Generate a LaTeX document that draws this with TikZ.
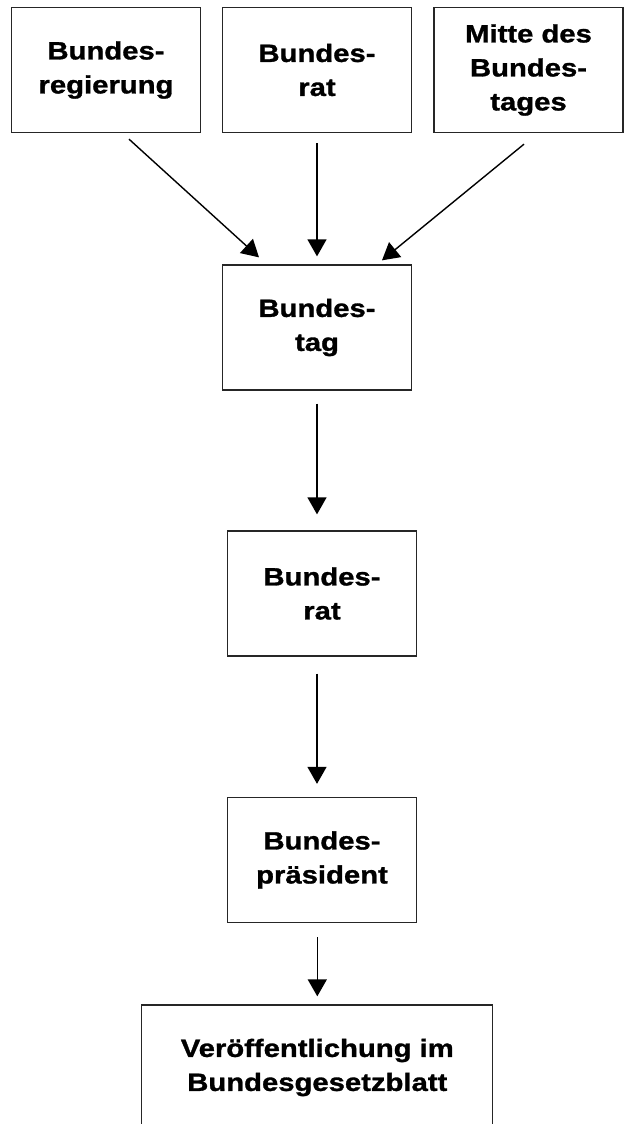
\documentclass[tikz,border=0pt]{standalone}
\usepackage{fontspec}
\setmainfont{Liberation Sans}[FakeStretch=1.17, BoldFeatures={FakeBold=1.2}]
\usetikzlibrary{arrows.meta}

\begin{document}
\begin{tikzpicture}[x=1pt, y=1pt,
    stelle/.style={draw=black!85, line width=1.3pt, minimum width=189pt,
      minimum height=125pt, inner sep=0pt, align=center,
      font=\bfseries\fontsize{25}{34}\selectfont},
    pfeil/.style={line width=1.4pt, -{Triangle[length=17pt, width=19pt]}}]

  \useasboundingbox (0,0) rectangle (628,-1124);

  % obere Reihe
  \node[stelle] (regierung) at (106,-70) {Bundes-\\regierung};
  \node[stelle] (rat) at (317,-70) {Bundes-\\rat};
  \node[stelle] (mitte) at (528.5,-70) {Mitte des\\Bundes-\\tages};

  \node[stelle] (bundestag) at (317,-327.5) {Bundes-\\tag};
  \node[stelle] (bundesrat) at (322,-593.5) {Bundes-\\rat};
  \node[stelle] (praesident) at (322,-860) {Bundes-\\präsident};
  \node[stelle, minimum width=351pt] (blatt) at (317.3,-1067.5)
    {Veröffentlichung im\\Bundesgesetzblatt};

  \draw[pfeil] ([xshift=23pt, yshift=-6pt]regierung.south)
    -- ([xshift=-58pt, yshift=7pt]bundestag.north);
  \draw[pfeil] ([yshift=-10pt]rat.south) -- ([yshift=8pt]bundestag.north);
  \draw[pfeil] ([xshift=-4.5pt, yshift=-11pt]mitte.south)
    -- ([xshift=65pt, yshift=4pt]bundestag.north);

  \draw[pfeil] ([yshift=-13pt]bundestag.south)
    -- ([yshift=16pt]bundestag.south |- bundesrat.north);
  \draw[pfeil] ([yshift=-17pt]bundestag.south |- bundesrat.south)
    -- ([yshift=13pt]bundestag.south |- praesident.north);
  \draw[pfeil] ([yshift=-14pt]blatt.north |- praesident.south)
    -- ([yshift=8pt]blatt.north);

\end{tikzpicture}
\end{document}
